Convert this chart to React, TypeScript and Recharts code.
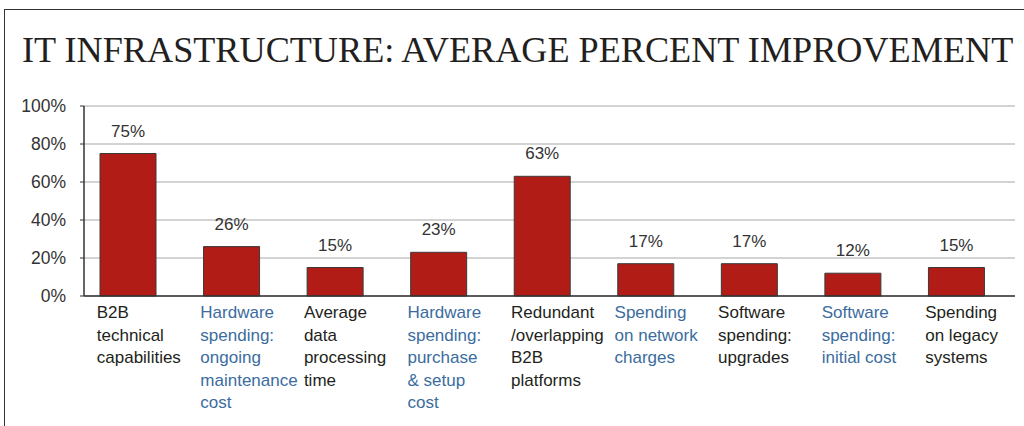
import { BarChart, Bar, XAxis, YAxis, CartesianGrid, LabelList } from "recharts";

const categories = [
  "B2B technical capabilities",
  "Hardware spending: ongoing maintenance cost",
  "Average data processing time",
  "Hardware spending: purchase & setup cost",
  "Redundant /overlapping B2B platforms",
  "Spending on network charges",
  "Software spending: upgrades",
  "Software spending: initial cost",
  "Spending on legacy systems",
];

const labelLines = [
  ["B2B", "technical", "capabilities"],
  ["Hardware", "spending:", "ongoing", "maintenance", "cost"],
  ["Average", "data", "processing", "time"],
  ["Hardware", "spending:", "purchase", "& setup", "cost"],
  ["Redundant", "/overlapping", "B2B", "platforms"],
  ["Spending", "on network", "charges"],
  ["Software", "spending:", "upgrades"],
  ["Software", "spending:", "initial cost"],
  ["Spending", "on legacy", "systems"],
];

const improvement = [75, 26, 15, 23, 63, 17, 17, 12, 15];

const yTicks = [0, 20, 40, 60, 80, 100];

const data = categories.map((name, i) => ({ name, value: improvement[i] }));

const SANS = '"Liberation Sans", Arial, sans-serif';
const DARK = "#231f20";
const BLUE = "#3b6c9e";
const RED = "#b21c17";

function CategoryTick(props: any) {
  const { x, y, index } = props;
  const lines = labelLines[index] ?? [];
  const color = index % 2 === 1 ? BLUE : DARK;
  const left = x - 31;
  return (
    <text x={left} y={y + 22} fill={color} fontSize={17} fontFamily={SANS} textAnchor="start">
      {lines.map((line, i) => (
        <tspan key={i} x={left} dy={i === 0 ? 0 : 22.5}>
          {line}
        </tspan>
      ))}
    </text>
  );
}

export default function App() {
  return (
    <div style={{ position: "absolute", left: 0, top: 0, width: 1024, height: 426, background: "#fff", overflow: "hidden" }}>
      {/* frame: top and left rule */}
      <div style={{ position: "absolute", left: 4, top: 9, width: 1020, height: 1, background: "#333" }} />
      <div style={{ position: "absolute", left: 4, top: 9, width: 1, height: 417, background: "#333" }} />

      <div
        style={{
          position: "absolute",
          left: 22,
          top: 32,
          fontFamily: '"Liberation Serif", "Times New Roman", serif',
          fontSize: 36.2,
          lineHeight: "36px",
          color: DARK,
          whiteSpace: "nowrap",
        }}
      >
        IT INFRASTRUCTURE: AVERAGE PERCENT IMPROVEMENT
      </div>

      <div style={{ position: "absolute", left: 0, top: 0 }}>
        <BarChart width={1024} height={426} data={data} margin={{ top: 106, right: 9, bottom: 0, left: 0 }}>
          <CartesianGrid vertical={false} stroke="#a8a8a8" strokeWidth={1.2} />
          <XAxis
            dataKey="name"
            interval={0}
            height={130}
            tickLine={false}
            tickSize={0}
            tickMargin={0}
            axisLine={{ stroke: "#333", strokeWidth: 1.5 }}
            padding={{ left: -8, right: 7 }}
            tick={<CategoryTick />}
          />
          <YAxis
            width={84}
            domain={[0, 100]}
            ticks={yTicks}
            tickFormatter={(v: number) => `${v}%`}
            axisLine={{ stroke: "#333", strokeWidth: 1.5 }}
            tickLine={{ stroke: "#333" }}
            tickSize={4}
            tickMargin={14}
            tick={{ fill: "#333", fontSize: 17.5, fontFamily: SANS }}
          />
          <Bar dataKey="value" fill={RED} stroke="#3a3a3a" strokeWidth={1} barSize={56} isAnimationActive={false}>
            <LabelList
              dataKey="value"
              position="top"
              offset={17}
              formatter={(v: any) => `${v}%`}
              fill="#333"
              fontSize={17}
              fontFamily={SANS}
            />
          </Bar>
        </BarChart>
      </div>
    </div>
  );
}
